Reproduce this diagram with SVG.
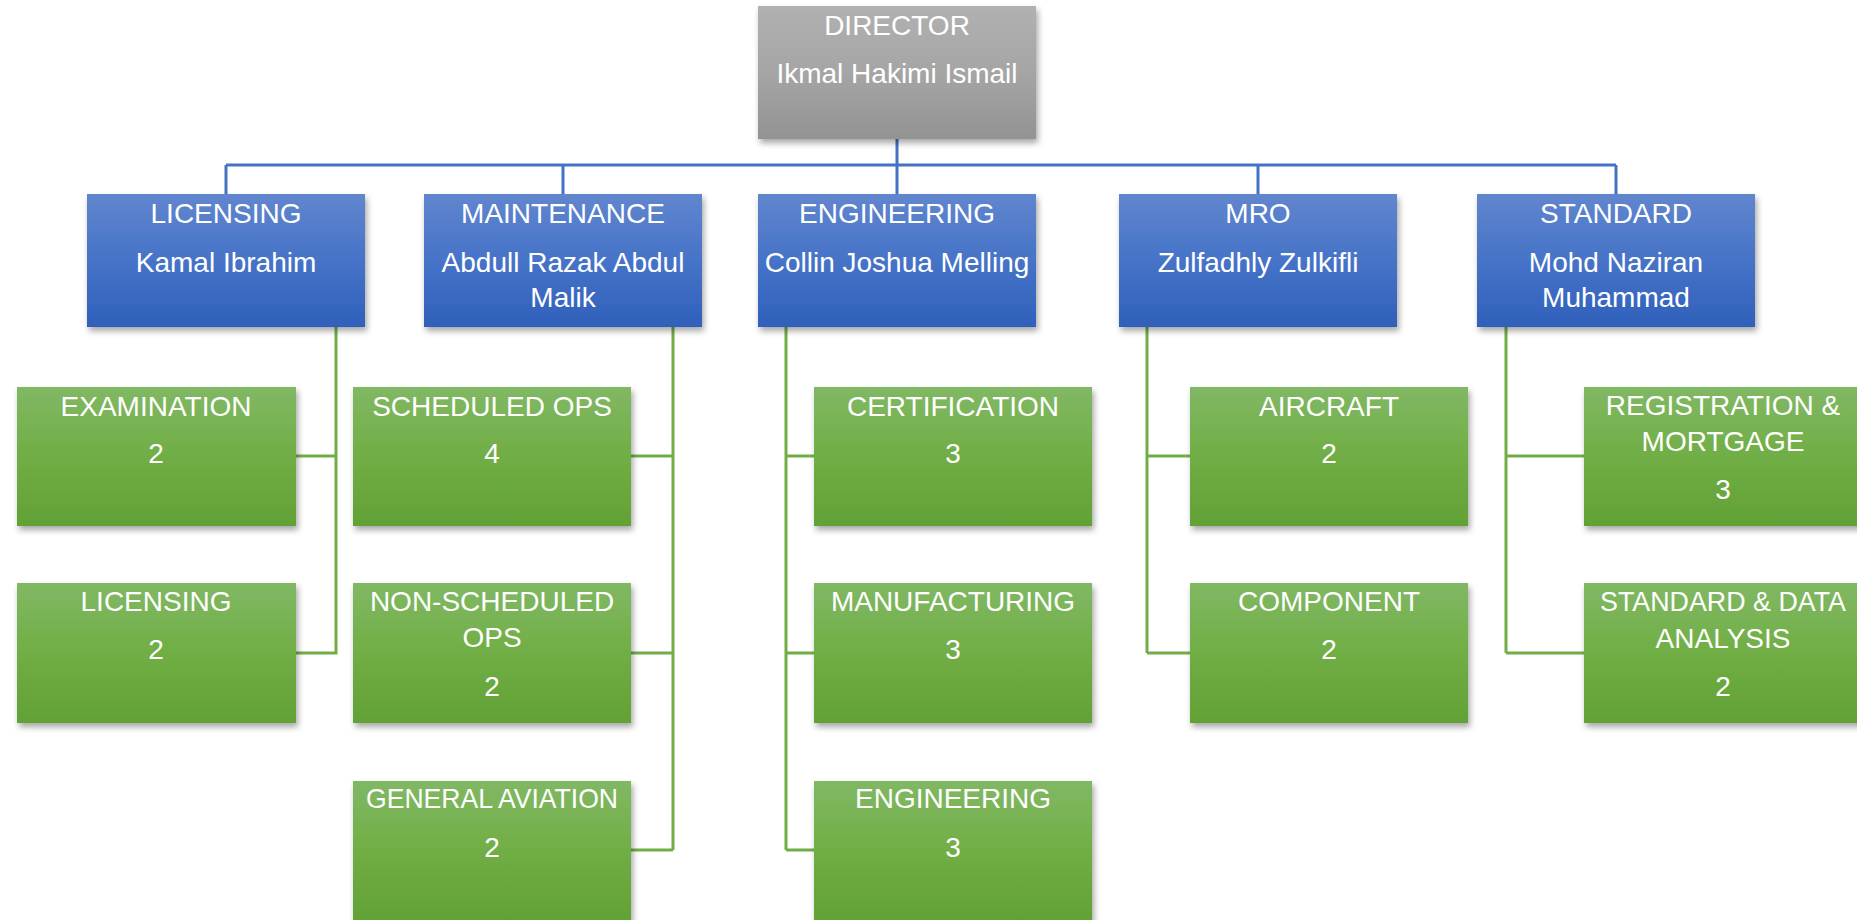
<svg xmlns="http://www.w3.org/2000/svg" width="1857" height="920" viewBox="0 0 1857 920">
<style>
.t{font-family:"Liberation Sans",Arial,sans-serif;font-size:28px;fill:#ffffff;text-anchor:middle}
.bl{fill:none;stroke:#4472c4;stroke-width:3}
.gl{fill:none;stroke:#70ad47;stroke-width:3}
</style>
<defs>
<linearGradient id="gGray" x1="0" y1="0" x2="0" y2="1">
<stop offset="0" stop-color="#b1b1b1"/><stop offset="0.5" stop-color="#a5a5a5"/><stop offset="1" stop-color="#939393"/>
</linearGradient>
<linearGradient id="gBlue" x1="0" y1="0" x2="0" y2="1">
<stop offset="0" stop-color="#6186ce"/><stop offset="0.5" stop-color="#4673c8"/><stop offset="1" stop-color="#2f60ba"/>
</linearGradient>
<linearGradient id="gGreen" x1="0" y1="0" x2="0" y2="1">
<stop offset="0" stop-color="#81b864"/><stop offset="0.5" stop-color="#70ae45"/><stop offset="1" stop-color="#62a135"/>
</linearGradient>
<filter id="sh" x="-10%" y="-10%" width="125%" height="135%">
<feDropShadow dx="2" dy="4" stdDeviation="3" flood-color="#000" flood-opacity="0.35"/>
</filter>
</defs>
<rect width="1857" height="920" fill="#ffffff"/>
<g id="connectors">
<path class="bl" d="M897 139V194M226 165H1616M226 165V194M563 165V194M1258 165V194M1616 165V194"/>
<path class="gl" d="M336 327V456M296 456H336M336 456V653H296"/>
<path class="gl" d="M673 327V850M631 456H673M631 653H673M631 850H673"/>
<path class="gl" d="M786 327V850M786 456H814M786 653H814M786 850H814"/>
<path class="gl" d="M1147 327V653M1147 456H1190M1147 653H1190"/>
<path class="gl" d="M1506 327V653M1506 456H1584M1506 653H1584"/>
</g>
<g id="director">
<rect x="758" y="6" width="278" height="133" fill="url(#gGray)" filter="url(#sh)"/>
<text class="t" x="897" y="35">DIRECTOR</text>
<text class="t" x="897" y="83">Ikmal Hakimi Ismail</text>
</g>
<g id="licensing">
<rect x="87" y="194" width="278" height="133" fill="url(#gBlue)" filter="url(#sh)"/>
<text class="t" x="226" y="223">LICENSING</text>
<text class="t" x="226" y="272">Kamal Ibrahim</text>
</g>
<g id="maintenance">
<rect x="424" y="194" width="278" height="133" fill="url(#gBlue)" filter="url(#sh)"/>
<text class="t" x="563" y="223">MAINTENANCE</text>
<text class="t" x="563" y="272">Abdull Razak Abdul</text>
<text class="t" x="563" y="307">Malik</text>
</g>
<g id="engineering">
<rect x="758" y="194" width="278" height="133" fill="url(#gBlue)" filter="url(#sh)"/>
<text class="t" x="897" y="223">ENGINEERING</text>
<text class="t" x="897" y="272">Collin Joshua Melling</text>
</g>
<g id="mro">
<rect x="1119" y="194" width="278" height="133" fill="url(#gBlue)" filter="url(#sh)"/>
<text class="t" x="1258" y="223">MRO</text>
<text class="t" x="1258" y="272">Zulfadhly Zulkifli</text>
</g>
<g id="standard">
<rect x="1477" y="194" width="278" height="133" fill="url(#gBlue)" filter="url(#sh)"/>
<text class="t" x="1616" y="223">STANDARD</text>
<text class="t" x="1616" y="272">Mohd Naziran</text>
<text class="t" x="1616" y="307">Muhammad</text>
</g>
<g id="examination">
<rect x="17" y="387" width="279" height="139" fill="url(#gGreen)" filter="url(#sh)"/>
<text class="t" x="156" y="416">EXAMINATION</text>
<text class="t" x="156" y="463">2</text>
</g>
<g id="licensing-unit">
<rect x="17" y="583" width="279" height="140" fill="url(#gGreen)" filter="url(#sh)"/>
<text class="t" x="156" y="611">LICENSING</text>
<text class="t" x="156" y="659">2</text>
</g>
<g id="scheduled-ops">
<rect x="353" y="387" width="278" height="139" fill="url(#gGreen)" filter="url(#sh)"/>
<text class="t" x="492" y="416">SCHEDULED OPS</text>
<text class="t" x="492" y="463">4</text>
</g>
<g id="non-scheduled-ops">
<rect x="353" y="583" width="278" height="140" fill="url(#gGreen)" filter="url(#sh)"/>
<text class="t" x="492" y="611">NON-SCHEDULED</text>
<text class="t" x="492" y="647">OPS</text>
<text class="t" x="492" y="696">2</text>
</g>
<g id="general-aviation">
<rect x="353" y="781" width="278" height="140" fill="url(#gGreen)" filter="url(#sh)"/>
<text class="t" x="492" y="808" textLength="252" lengthAdjust="spacingAndGlyphs">GENERAL AVIATION</text>
<text class="t" x="492" y="857">2</text>
</g>
<g id="certification">
<rect x="814" y="387" width="278" height="139" fill="url(#gGreen)" filter="url(#sh)"/>
<text class="t" x="953" y="416">CERTIFICATION</text>
<text class="t" x="953" y="463">3</text>
</g>
<g id="manufacturing">
<rect x="814" y="583" width="278" height="140" fill="url(#gGreen)" filter="url(#sh)"/>
<text class="t" x="953" y="611">MANUFACTURING</text>
<text class="t" x="953" y="659">3</text>
</g>
<g id="engineering-unit">
<rect x="814" y="781" width="278" height="140" fill="url(#gGreen)" filter="url(#sh)"/>
<text class="t" x="953" y="808">ENGINEERING</text>
<text class="t" x="953" y="857">3</text>
</g>
<g id="aircraft">
<rect x="1190" y="387" width="278" height="139" fill="url(#gGreen)" filter="url(#sh)"/>
<text class="t" x="1329" y="416">AIRCRAFT</text>
<text class="t" x="1329" y="463">2</text>
</g>
<g id="component">
<rect x="1190" y="583" width="278" height="140" fill="url(#gGreen)" filter="url(#sh)"/>
<text class="t" x="1329" y="611">COMPONENT</text>
<text class="t" x="1329" y="659">2</text>
</g>
<g id="registration-mortgage">
<rect x="1584" y="387" width="278" height="139" fill="url(#gGreen)" filter="url(#sh)"/>
<text class="t" x="1723" y="415">REGISTRATION &amp;</text>
<text class="t" x="1723" y="451">MORTGAGE</text>
<text class="t" x="1723" y="499">3</text>
</g>
<g id="standard-data-analysis">
<rect x="1584" y="583" width="278" height="140" fill="url(#gGreen)" filter="url(#sh)"/>
<text class="t" x="1723" y="611" textLength="246" lengthAdjust="spacingAndGlyphs">STANDARD &amp; DATA</text>
<text class="t" x="1723" y="648">ANALYSIS</text>
<text class="t" x="1723" y="696">2</text>
</g>
</svg>
